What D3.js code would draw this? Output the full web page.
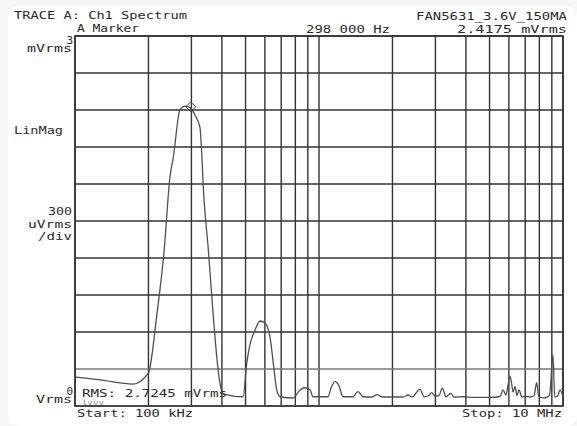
<!DOCTYPE html>
<html>
<head>
<meta charset="utf-8">
<script src="https://cdn.jsdelivr.net/npm/d3@7"></script>
<style>
  body { margin: 0; background: #fff; }
  svg { display: block; }
  text { font-family: "DejaVu Sans Mono", monospace; fill: #2b2b2b; }
</style>
</head>
<body>
<svg></svg>
<script>
// trace A, Ch1 spectrum (frequency in Hz, magnitude in uVrms)
const freqHz = [
  100e3, 127e3, 173e3, 200e3, 203e3, 216e3, 232e3, 245e3, 253e3, 269e3,
  282e3, 298e3, 310e3, 325e3, 338e3, 352e3, 369e3, 386e3, 397e3, 408e3,
  488e3, 506e3, 521e3, 547e3, 573e3, 601e3, 630e3, 651e3, 671e3, 692e3,
  783e3, 836e3, 876e3, 919e3, 945e3, 1.089e6, 1.12e6, 1.163e6, 1.208e6, 1.254e6,
  1.378e6, 1.445e6, 1.515e6, 1.649e6, 1.729e6, 1.812e6, 1.99e6, 2.21e6, 2.32e6, 2.405e6,
  2.594e6, 2.694e6, 2.798e6, 2.896e6, 2.988e6, 3.1e6, 3.202e6, 3.316e6, 3.466e6, 3.575e6,
  3.893e6, 4.3e6, 4.8e6, 5.02e6, 5.52e6, 5.676e6, 5.84e6, 5.95e6, 6.06e6, 6.15e6,
  6.24e6, 6.36e6, 6.48e6, 6.6e6, 6.79e6, 7.0e6, 7.32e6, 7.6e6, 7.8e6, 7.95e6,
  8.4e6, 8.8e6, 9.1e6, 9.25e6, 9.5e6, 9.72e6, 10e6
];
const traceUv = [
  235, 211, 178, 268, 316, 722, 1265, 1857, 2019, 2400,
  2432, 2417, 2359, 2262, 1670, 1265, 722, 292, 138, 97,
  75, 349, 495, 616, 689, 673, 559, 332, 130, 75,
  65, 130, 148, 130, 75, 75, 146, 197, 162, 75,
  75, 116, 75, 73, 93, 73, 73, 73, 89, 73,
  135, 75, 81, 108, 81, 85, 144, 75, 103, 73,
  75, 70, 70, 69, 77, 130, 89, 170, 243, 190,
  113, 156, 85, 130, 73, 80, 73, 81, 189, 75,
  65, 85, 414, 73, 81, 130, 73
];
const markerFreq = 298000;
const markerUv = 2417.5;

const yMaxUv = 3000;
const yStepUv = 300;

const svg = d3.select('svg').attr('width', 577).attr('height', 426);
const plot = {left: 75, right: 563, top: 36, bottom: 406};

// faint grey border strip like the screen capture
svg.append('rect').attr('x', 0).attr('y', 0).attr('width', 577).attr('height', 426).attr('fill', '#f6f6f6');
svg.append('rect').attr('x', 8).attr('y', 6).attr('width', 569).attr('height', 420).attr('rx', 10).attr('fill', '#fff');

const xScale = d3.scaleLog()
    .domain([freqHz[0], freqHz[freqHz.length - 1]])
    .range([plot.left, plot.right]);

const yScale = d3.scaleLinear()
    .domain([0, yMaxUv])
    .range([plot.bottom, plot.top]);

// grid
const grid = svg.append('g').classed('grid', true);
grid.selectAll('line.v')
    .data(xScale.ticks())
    .enter()
    .append('line')
        .attr('x1', d => xScale(d)).attr('x2', d => xScale(d))
        .attr('y1', plot.top).attr('y2', plot.bottom)
        .attr('stroke', '#333')
        .attr('stroke-width', 1.4);

grid.selectAll('line.h')
    .data(d3.range(0, yMaxUv + 1, yStepUv))
    .enter()
    .append('line')
        .attr('x1', plot.left).attr('x2', plot.right)
        .attr('y1', d => yScale(d)).attr('y2', d => yScale(d))
        .attr('stroke', d => d === yStepUv || d === 0 ? '#777' : '#333')
        .attr('stroke-width', 1.4);

svg.append('rect')
    .attr('x', plot.left).attr('y', plot.top)
    .attr('width', plot.right - plot.left).attr('height', plot.bottom - plot.top)
    .attr('fill', 'none').attr('stroke', '#333').attr('stroke-width', 1.6);

// trace
const line = d3.line()
    .x((d, i) => xScale(freqHz[i]))
    .y(d => yScale(d))
    .curve(d3.curveMonotoneX);

svg.append('path')
    .datum(traceUv)
    .attr('d', line)
    .attr('fill', 'none')
    .attr('stroke', '#505050')
    .attr('stroke-width', 1.3)
    .attr('stroke-linejoin', 'round');

// marker diamond
const mx = xScale(markerFreq), my = yScale(markerUv) - 1;
svg.append('path')
    .attr('d', `M${mx - 5},${my} L${mx},${my - 5} L${mx + 5},${my} L${mx},${my + 5} Z`)
    .attr('fill', 'none')
    .attr('stroke', '#444')
    .attr('stroke-width', 1);

// texts
function label(x, y, str, len, anchor) {
    let t = svg.append('text')
        .attr('x', x).attr('y', y)
        .attr('font-size', 11)
        .attr('text-anchor', anchor || 'start')
        .text(str);
    if (len) t.attr('textLength', len).attr('lengthAdjust', 'spacingAndGlyphs');
    return t;
}

label(14, 19, 'TRACE A: Ch1 Spectrum', 173);
label(77, 32, 'A Marker', 62);
label(306, 33, '298 000 Hz', 84);
label(416, 20, 'FAN5631_3.6V_150MA', 151);
label(457, 33, '2.4175 mVrms', 110);

label(73, 44, '3', null, 'end');
label(27, 52, 'mVrms', 45);
label(14, 134, 'LinMag', 49);
label(48, 215, '300', 24);
label(28, 228, 'uVrms', 44);
label(38, 240, '/div', 34);
label(73, 395, '0', null, 'end');
label(36, 403, 'Vrms', 36);

label(82, 397, 'RMS: 2.7245 mVrms', 145);
label(82, 405, 'lvvv', 22).attr('font-size', 7).style('fill', '#888');
label(77, 417, 'Start: 100 kHz', 116);
label(462, 417, 'Stop: 10 MHz', 100);
</script>
</body>
</html>
